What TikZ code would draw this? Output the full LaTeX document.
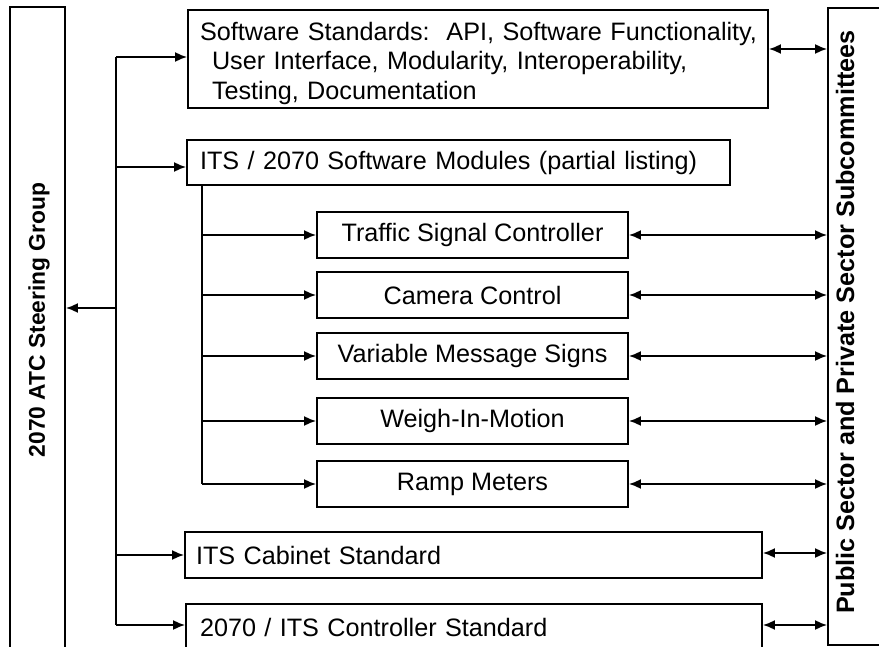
\documentclass[tikz,border=0pt]{standalone}
\usepackage{fontspec}
\setmainfont{Liberation Sans}
\usetikzlibrary{arrows.meta}
\begin{document}
\begin{tikzpicture}[x=0.5pt,y=-0.5pt,
  box/.style={draw, line width=0.9pt, inner sep=0pt, font=\fontsize{12.6}{14.6}\selectfont},
  side/.style={draw, line width=0.9pt, inner sep=0pt},
  sidetext/.style={rotate=90, font=\bfseries\fontsize{11.4}{13}\selectfont},
  ln/.style={line width=0.9pt},
  arr/.style={line width=0.9pt, -{Latex[length=6pt,width=5pt]}},
  darr/.style={line width=0.9pt, {Latex[length=6pt,width=5pt]}-{Latex[length=6pt,width=5pt]}}]
\useasboundingbox (0,0) rectangle (879,647);
\clip (0,0) rectangle (879,647);

% side boxes
\node[side, minimum width=27.5pt, minimum height=326.5pt] (lb) at (37.5,333.5) {};
\node[sidetext] (lbt) at (39,320) {2070 ATC Steering Group};
\node[side, minimum width=34pt, minimum height=318.5pt] (rb) at (862,326.5) {};
\node[sidetext, font=\bfseries\fontsize{12.6}{14}\selectfont] (rbt) at (845,322) {Public Sector and Private Sector Subcommittees};

% main boxes
\node[box, inner xsep=6pt, text width=278pt, align=left, minimum height=49pt] (ss) at (478,59)
  {\rule{0pt}{13.5pt}\mbox{Software Standards:\ \ API, Software Functionality,}\\\mbox{\hspace*{6pt}User Interface, Modularity, Interoperability,}\\\mbox{\hspace*{6pt}Testing, Documentation}};
\node[box, inner xsep=6.5pt, text width=258.5pt, align=left, minimum height=22.5pt] (its) at (458.5,162.5)
  {\mbox{ITS / 2070 Software Modules (partial listing)}};

\node[box, minimum width=155.5pt, minimum height=23pt] (m1) at (472.5,235) {Traffic Signal Controller};
\node[box, minimum width=155.5pt, minimum height=23pt] (m2) at (472.5,295) {Camera Control};
\node[box, minimum width=155.5pt, minimum height=23pt] (m3) at (472.5,356) {Variable Message Signs};
\node[box, minimum width=155.5pt, minimum height=23pt] (m4) at (472.5,421) {Weigh-In-Motion};
\node[box, minimum width=155.5pt, minimum height=23pt] (m5) at (472.5,484) {Ramp Meters};

\node[box, inner xsep=5.5pt, text width=277.5pt, align=left, minimum height=23pt] (cab) at (473.5,555)
  {ITS Cabinet Standard};
\node[box, inner xsep=7pt, text width=274pt, align=left, minimum height=23pt] (ctl) at (474,627)
  {2070 / ITS Controller Standard};

% main bus
\coordinate (b1) at (116,57);
\coordinate (b2) at (116,167);
\coordinate (bs) at (116,308);
\coordinate (b3) at (116,555);
\coordinate (b4) at (116,625);
\draw[ln] (b1) -- (b4);
\draw[arr] (b1) -- (ss.west |- b1);
\draw[arr] (b2) -- (its.west |- b2);
\draw[arr] (b3) -- (cab.west |- b3);
\draw[arr] (b4) -- (ctl.west |- b4);
\draw[arr] (bs) -- (lb.east |- bs);

% sub bus
\coordinate (s0) at ([xshift=8pt]its.south west);
\coordinate (s5) at (s0 |- m5.west);
\draw[ln] (s0) -- (s5);
\foreach \m in {m1,m2,m3,m4,m5} {
  \draw[arr] (s0 |- \m.west) -- (\m.west);
  \draw[darr] (\m.east) -- (rb.west |- \m.east);
}

% other double arrows
\coordinate (r0) at ([yshift=5pt]ss.east);
\coordinate (r6) at ([yshift=1pt]cab.east);
\coordinate (r7) at ([yshift=1pt]ctl.east);
\draw[darr] (r0) -- (rb.west |- r0);
\draw[darr] (r6) -- (rb.west |- r6);
\draw[darr] (r7) -- (rb.west |- r7);
\end{tikzpicture}
\end{document}
